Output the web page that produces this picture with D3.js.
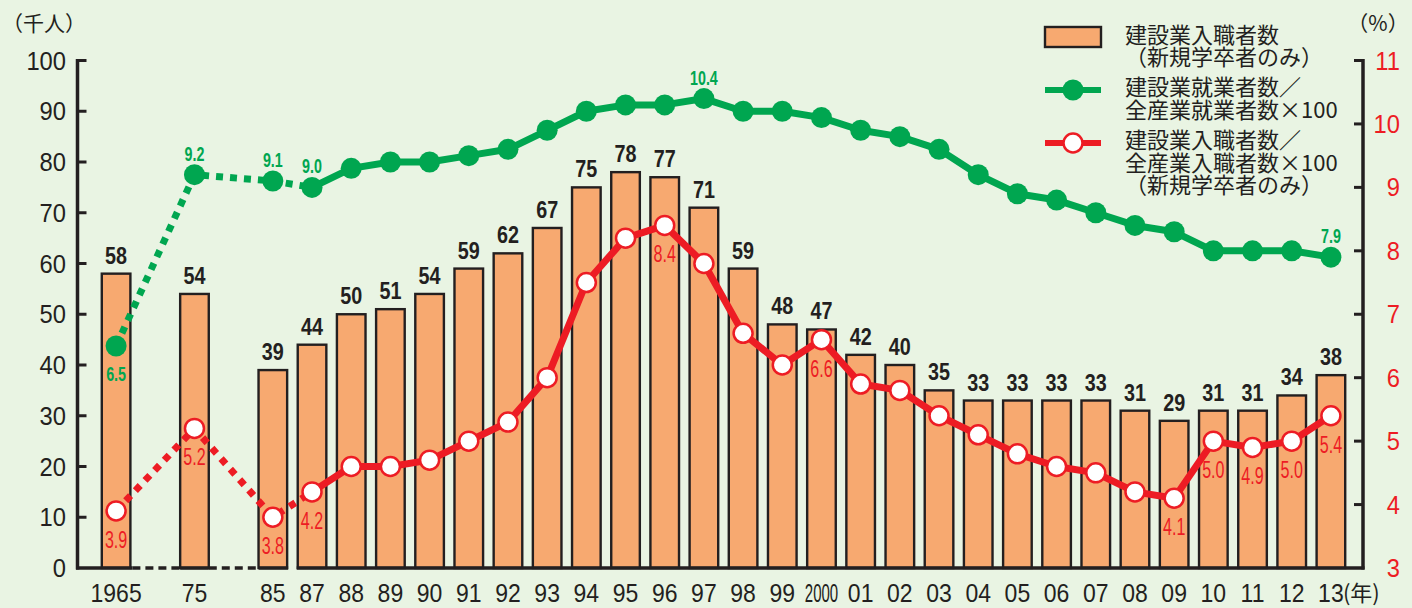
<!DOCTYPE html>
<html>
<head>
<meta charset="utf-8">
<script src="https://cdn.jsdelivr.net/npm/d3@7"></script>
<style>
  html, body { margin: 0; padding: 0; background: #e9f4e3; }
  svg { display: block; }
  text { font-family: "Liberation Sans", Arial, sans-serif; }
  .jp { font-family: "Noto Sans CJK JP", sans-serif; }
</style>
</head>
<body>
<svg id="chart" width="1412" height="608"></svg>
<script>
// x categories (years); the axis skips between 1965-75 and 75-85
const years = ['1965', '75', '85', '87', '88', '89', '90', '91', '92', '93', '94', '95', '96', '97', '98', '99',
  '2000', '01', '02', '03', '04', '05', '06', '07', '08', '09', '10', '11', '12', '13'];
const gapAfter = ['1965', '75'];

// 建設業入職者数（新規学卒者のみ）, thousand persons
const entrants = [58, 54, 39, 44, 50, 51, 54, 59, 62, 67, 75, 78, 77, 71, 59, 48,
  47, 42, 40, 35, 33, 33, 33, 33, 31, 29, 31, 31, 34, 38];

// 建設業就業者数／全産業就業者数×100, %
const employedShare = [6.5, 9.2, 9.1, 9.0, 9.3, 9.4, 9.4, 9.5, 9.6, 9.9, 10.2, 10.3, 10.3, 10.4, 10.2, 10.2,
  10.1, 9.9, 9.8, 9.6, 9.2, 8.9, 8.8, 8.6, 8.4, 8.3, 8.0, 8.0, 8.0, 7.9];

// 建設業入職者数／全産業入職者数×100（新規学卒者のみ）, %
const entrantShare = [3.9, 5.2, 3.8, 4.2, 4.6, 4.6, 4.7, 5.0, 5.3, 6.0, 7.5, 8.2, 8.4, 7.8, 6.7, 6.2,
  6.6, 5.9, 5.8, 5.4, 5.1, 4.8, 4.6, 4.5, 4.2, 4.1, 5.0, 4.9, 5.0, 5.4];

// which points carry a value label
const employedLabelled = ['1965', '75', '85', '87', '97', '13'];
const entrantLabelled = ['1965', '75', '85', '87', '96', '2000', '09', '10', '11', '12', '13'];
const dottedSegments = 3; // first segments (before 1987) are dotted

const leftTicks = [0, 10, 20, 30, 40, 50, 60, 70, 80, 90, 100];
const rightTicks = [3, 4, 5, 6, 7, 8, 9, 10, 11];

const legendItems = [
  { type: 'bar', lines: ['建設業入職者数', '（新規学卒者のみ）'] },
  { type: 'employed', lines: ['建設業就業者数／', '全産業就業者数×100'] },
  { type: 'entrant', lines: ['建設業入職者数／', '全産業入職者数×100', '（新規学卒者のみ）'] }
];

const C = {
  bar: '#f7a970',
  ink: '#231f20',
  green: '#00a650',
  red: '#ed1c24'
};

const svg = d3.select('#chart');

// band slots: one per year, plus an empty slot after each skipped interval
const slots = [];
years.forEach(y => {
  slots.push(y);
  if (gapAfter.includes(y)) slots.push('gap-' + y);
});

const x = d3.scaleBand()
  .domain(slots)
  .range([96.5, 1350.5])
  .paddingInner(0.27)
  .paddingOuter(0.135);
const cx = y => x(y) + x.bandwidth() / 2;

const yL = d3.scaleLinear().domain([0, 100]).range([568, 60.5]);
const yR = d3.scaleLinear().domain([3, 11]).range([568, 60.5]);

const axisLeftX = 77.5;
const axisRightX = 1363;

// squeezed text helper
function label(g, px, py, txt, o) {
  return g.append('text')
    .attr('transform', `translate(${px},${py}) scale(${o.sx || 1},1)`)
    .attr('text-anchor', o.anchor || 'middle')
    .attr('font-size', o.size)
    .attr('font-weight', o.weight || 'normal')
    .attr('fill', o.fill || C.ink)
    .text(txt);
}

// bars
const barG = svg.append('g');
barG.selectAll('rect')
  .data(years)
  .enter()
  .append('rect')
    .attr('x', d => x(d))
    .attr('y', (d, i) => yL(entrants[i]))
    .attr('width', x.bandwidth())
    .attr('height', (d, i) => yL(0) - yL(entrants[i]))
    .attr('fill', C.bar)
    .attr('stroke', C.ink)
    .attr('stroke-width', 2.4);

// baseline: solid under bars, dashed across the skipped years, a small break before 87
const axisG = svg.append('g').attr('stroke', C.ink).attr('stroke-width', 3.5);
const base = yL(0);
const x65r = x('1965') + x.bandwidth() + 2;
const x75l = x('75'), x75r = x('75') + x.bandwidth();
const x85l = x('85'), x85r = x('85') + x.bandwidth() + 1;
const x87l = x('87') - 1;
axisG.append('line').attr('x1', axisLeftX - 1.5).attr('x2', x65r).attr('y1', base).attr('y2', base);
axisG.append('line').attr('x1', x65r).attr('x2', x75l).attr('y1', base).attr('y2', base).attr('stroke-dasharray', '8,5');
axisG.append('line').attr('x1', x75l).attr('x2', x75r).attr('y1', base).attr('y2', base);
axisG.append('line').attr('x1', x75r).attr('x2', x85l).attr('y1', base).attr('y2', base).attr('stroke-dasharray', '8,5');
axisG.append('line').attr('x1', x85l).attr('x2', x85r).attr('y1', base).attr('y2', base);
axisG.append('line').attr('x1', x87l).attr('x2', axisRightX + 1.5).attr('y1', base).attr('y2', base);

// left axis
axisG.append('line').attr('x1', axisLeftX).attr('x2', axisLeftX).attr('y1', yL(100) - 1.5).attr('y2', base + 1.5);
axisG.selectAll('.tl').data(leftTicks.slice(1)).enter().append('line')
  .attr('x1', axisLeftX).attr('x2', axisLeftX + 9)
  .attr('y1', d => yL(d)).attr('y2', d => yL(d))
  .attr('stroke-width', 3);
// right axis
axisG.append('line').attr('x1', axisRightX).attr('x2', axisRightX).attr('y1', yR(11) - 1.5).attr('y2', base + 1.5);
axisG.selectAll('.tr').data(rightTicks.slice(1)).enter().append('line')
  .attr('x1', axisRightX - 9).attr('x2', axisRightX)
  .attr('y1', d => yR(d)).attr('y2', d => yR(d))
  .attr('stroke-width', 3);

const textG = svg.append('g');
leftTicks.forEach(t => label(textG, 66, yL(t) + 9, t, { size: 25, anchor: 'end', sx: 0.95 }));
rightTicks.forEach(t => label(textG, 1400, yR(t) + 9, t, { size: 25, anchor: 'end', fill: C.red, sx: 0.95 }));

years.forEach(y => {
  label(textG, cx(y), 602, y, { size: 25, sx: y === '2000' ? 0.6 : 0.92 });
});
textG.append('text').attr('class', 'jp').attr('x', cx('13') + 12).attr('y', 601)
  .attr('font-size', 22).attr('fill', C.ink).text('(年)');

textG.append('text').attr('class', 'jp').attr('x', 44).attr('y', 31)
  .attr('text-anchor', 'middle').attr('font-size', 21).attr('fill', C.ink).text('（千人）');
textG.append('text').attr('class', 'jp').attr('x', 1378).attr('y', 31)
  .attr('text-anchor', 'middle').attr('font-size', 21).attr('fill', C.ink).text('（%）');

// bar values
years.forEach((y, i) => {
  label(textG, cx(y), yL(entrants[i]) - 10, entrants[i], { size: 23, weight: 'bold', sx: 0.86 });
});

// line series
function drawSeries(values, color, hollow) {
  const g = svg.append('g');
  const pts = years.map((y, i) => [cx(y), yR(values[i])]);
  const line = d3.line();
  g.append('path')
    .attr('d', line(pts.slice(0, dottedSegments + 1)))
    .attr('fill', 'none').attr('stroke', color).attr('stroke-width', 7)
    .attr('stroke-dasharray', '7,7');
  g.append('path')
    .attr('d', line(pts.slice(dottedSegments)))
    .attr('fill', 'none').attr('stroke', color).attr('stroke-width', 7)
    .attr('stroke-linejoin', 'round');
  g.selectAll('circle').data(pts).enter().append('circle')
    .attr('cx', d => d[0]).attr('cy', d => d[1])
    .attr('r', hollow ? 9.5 : 10.5)
    .attr('fill', hollow ? '#fff' : color)
    .attr('stroke', hollow ? color : 'none')
    .attr('stroke-width', 2.5);
  return g;
}

const greenG = drawSeries(employedShare, C.green, false);
const redG = drawSeries(entrantShare, C.red, true);

years.forEach((y, i) => {
  if (employedLabelled.includes(y)) {
    const below = employedShare[i] < 7;
    label(greenG, cx(y), yR(employedShare[i]) + (below ? 35 : -14),
      employedShare[i].toFixed(1), { size: 21, weight: 'bold', fill: C.green, sx: 0.68 });
  }
  if (entrantLabelled.includes(y)) {
    label(redG, cx(y), yR(entrantShare[i]) + 37,
      entrantShare[i].toFixed(1), { size: 23, fill: C.red, sx: 0.7 });
  }
});

// legend
const lg = svg.append('g');
const lineY = [43, 65, 95, 118, 148, 171, 193];
let li = 0;
legendItems.forEach(item => {
  const firstY = lineY[li];
  if (item.type === 'bar') {
    lg.append('rect').attr('x', 1045).attr('y', 27).attr('width', 56).attr('height', 20)
      .attr('fill', C.bar).attr('stroke', C.ink).attr('stroke-width', 2.4);
  } else {
    const color = item.type === 'employed' ? C.green : C.red;
    const ly = firstY - 5;
    lg.append('line').attr('x1', 1045).attr('x2', 1101).attr('y1', ly).attr('y2', ly)
      .attr('stroke', color).attr('stroke-width', 6);
    lg.append('circle').attr('cx', 1073).attr('cy', ly).attr('r', item.type === 'employed' ? 10.5 : 9.5)
      .attr('fill', item.type === 'employed' ? color : '#fff')
      .attr('stroke', item.type === 'employed' ? 'none' : color).attr('stroke-width', 2.5);
  }
  item.lines.forEach(t => {
    lg.append('text').attr('class', 'jp').attr('x', 1125).attr('y', lineY[li])
      .attr('font-size', 22).attr('fill', C.ink).text(t);
    li++;
  });
});
</script>
</body>
</html>
